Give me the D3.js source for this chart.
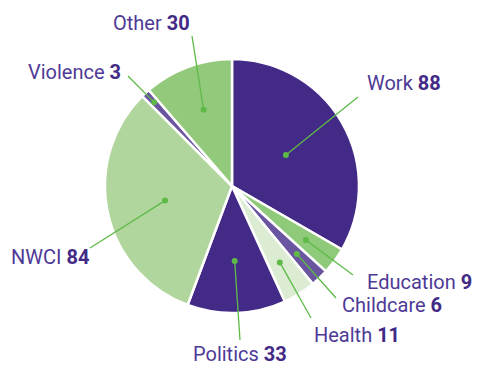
<!DOCTYPE html>
<html>
<head>
<meta charset="utf-8">
<script src="https://cdn.jsdelivr.net/npm/d3@7"></script>
<style>
  html, body { margin: 0; padding: 0; background: #fff; }
  svg { display: block; }
  .lbl { font-family: Roboto, "Noto Sans", sans-serif; font-size: 20px; fill: #4e3a96; }
  .lbl .num { font-weight: bold; fill: #432a87; }
</style>
</head>
<body>
<svg id="chart" width="478" height="366"></svg>
<script>
// slices, clockwise from 12 o'clock
const categories = ["Work", "Education", "Childcare", "Health", "Politics", "NWCI", "Violence", "Other"];
const values = [88, 9, 6, 11, 33, 84, 3, 30];
const colors = ["#432a87", "#8fc97a", "#6a55a0", "#dcecd3", "#432a87", "#b0d69e", "#6a55a0", "#93c97b"];

// annotation layout: dot radius (fraction of R), leader end, text anchor
const dotRadius = [0.49, 0.72, 0.74, 0.71, 0.59, 0.54, 0.9, 0.64];
const leaderEnd = [[126, -89], [121, 89], [104, 112], [79, 132], [8, 154], [-142, 62], [-104, -110], [-40, -150]];
const textPos = [[135, -96], [135, 103], [110, 126], [82, 156], [-39, 175], [-221, 78], [-204, -107], [-119, -156]];

const cx = 232, cy = 186, R = 127;

const svg = d3.select("#chart");
const g = svg.append("g").attr("transform", `translate(${cx},${cy})`);

const pie = d3.pie().sort(null).value((d) => d.value);
const arcs = pie(categories.map((c, i) => ({ name: c, value: values[i], i })));
const arc = d3.arc().innerRadius(0).outerRadius(R);

g.selectAll("path.slice")
    .data(arcs)
    .join("path")
    .attr("class", "slice")
    .attr("d", arc)
    .attr("fill", (d) => colors[d.data.i])
    .attr("stroke", "#fff")
    .attr("stroke-width", 2.5)
    .attr("stroke-linejoin", "round");

arcs.forEach((d) => {
    const i = d.data.i;
    const r = R * dotRadius[i];
    const dot = d3.arc().innerRadius(r).outerRadius(r).centroid(d);
    g.append("line")
        .attr("x1", dot[0]).attr("y1", dot[1])
        .attr("x2", leaderEnd[i][0]).attr("y2", leaderEnd[i][1])
        .attr("stroke", "#5dba47")
        .attr("stroke-width", 1.3);
    g.append("circle")
        .attr("cx", dot[0]).attr("cy", dot[1])
        .attr("r", 3)
        .attr("fill", "#5dba47");

    const t = g.append("text")
        .attr("class", "lbl")
        .attr("x", textPos[i][0])
        .attr("y", textPos[i][1]);
    t.append("tspan").text(d.data.name + " ");
    t.append("tspan").attr("class", "num").text(d.data.value);
});
</script>
</body>
</html>
